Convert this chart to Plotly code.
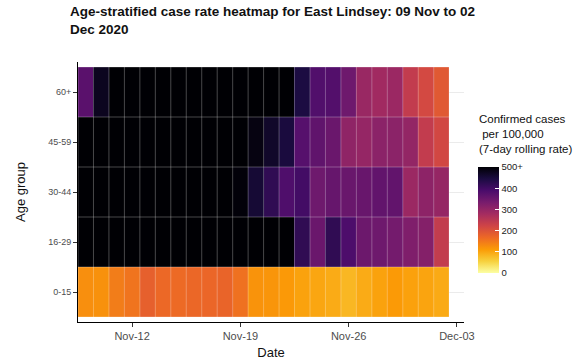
import plotly.graph_objects as go
import pandas as pd

# ---- data (7-day rolling case rate per 100,000; 500 = "500+" capped) ----
dates = pd.date_range("2020-11-09", "2020-12-02", freq="D")
age_groups = ["0-15", "16-29", "30-44", "45-59", "60+"]

rate_0_15 = [125, 122, 145, 155, 180, 168, 166, 170, 171, 174, 158, 120,
             118, 113, 104, 100, 95, 82, 95, 104, 112, 105, 102, 96]
rate_16_29 = [500, 500, 500, 500, 500, 500, 500, 500, 500, 500, 500, 500,
              500, 500, 420, 350, 420, 385, 348, 345, 338, 325, 318, 239]
rate_30_44 = [500, 500, 500, 500, 500, 500, 500, 500, 500, 500, 495, 455,
              420, 383, 397, 345, 355, 352, 353, 360, 360, 290, 308, 297]
rate_45_59 = [500, 500, 500, 500, 500, 500, 500, 500, 500, 500, 500, 488,
              465, 447, 375, 362, 350, 305, 298, 310, 310, 300, 240, 218]
rate_60_plus = [370, 475, 500, 500, 500, 500, 500, 500, 500, 500, 500, 500,
                500, 500, 443, 380, 378, 345, 292, 283, 290, 240, 215, 190]

cbar_ticks = [0, 100, 200, 300, 400, 500]
cbar_labels = ["0", "100", "200", "300", "400", "500+"]
x_ticks = pd.to_datetime(["2020-11-12", "2020-11-19", "2020-11-26", "2020-12-03"])

z = [rate_0_15, rate_16_29, rate_30_44, rate_45_59, rate_60_plus]

FONT = "Liberation Sans, Arial, sans-serif"
L, R, T, B = 78, 120, 62, 40
W, H = 584, 362
PW, PH = W - L - R, H - T - B


def px_x(px):
    return (px - L) / PW


def px_y(py):
    return (H - B - py) / PH


fig = go.Figure(go.Heatmap(
    x=dates, y=age_groups, z=z,
    colorscale="Inferno", reversescale=True, zmin=0, zmax=500,
    colorbar=dict(
        x=px_x(478), xanchor="left", y=px_y(220), yanchor="middle",
        len=106, lenmode="pixels", thickness=21, outlinewidth=0,
        ypad=0, xpad=0,
        tickvals=cbar_ticks, ticktext=cbar_labels,
        ticks="inside", ticklen=4, tickcolor="white",
        tickfont=dict(size=9.5, color="#222222", family=FONT),
    ),
    hoverongaps=False,
))

# tile borders (semi-transparent white), derived from the data grid
half = pd.Timedelta(hours=12)
edges = list(dates - half) + [dates[-1] + half]
shapes = []
for e in edges:
    shapes.append(dict(type="line", xref="x", yref="y", x0=e, x1=e,
                       y0=-0.5, y1=len(age_groups) - 0.5,
                       line=dict(color="rgba(255,255,255,0.28)", width=1)))
for i in range(len(age_groups) + 1):
    shapes.append(dict(type="line", xref="x", yref="y", x0=edges[0], x1=edges[-1],
                       y0=i - 0.5, y1=i - 0.5,
                       line=dict(color="rgba(255,255,255,0.28)", width=1)))

fig.update_layout(
    width=W, height=H,
    margin=dict(l=L, r=R, t=T, b=B, autoexpand=False),
    paper_bgcolor="white", plot_bgcolor="white",
    font=dict(family=FONT),
    shapes=shapes,
    annotations=[
        dict(
            text="<b>Age-stratified case rate heatmap for East Lindsey: 09 Nov to 02<br>Dec 2020</b>",
            xref="paper", yref="paper", x=px_x(68), y=px_y(2),
            xanchor="left", yanchor="top", align="left", showarrow=False,
            font=dict(size=13.5, color="#111111", family=FONT),
        ),
        dict(
            text="Confirmed cases<br>&nbsp;per 100,000<br>(7-day rolling rate)",
            xref="paper", yref="paper", x=px_x(477), y=px_y(111),
            xanchor="left", yanchor="top", align="left", showarrow=False,
            font=dict(size=11.5, color="#111111", family=FONT),
        ),
    ],
)

fig.update_xaxes(
    type="date",
    range=[edges[0], pd.Timestamp("2020-12-03 11:00")],
    tickvals=x_ticks, tickformat="%b-%d",
    ticks="outside", ticklen=4, tickcolor="#333333",
    showline=True, linecolor="black", linewidth=1,
    showgrid=False, zeroline=False,
    tickfont=dict(size=11, color="#4d4d4d"),
    title=dict(text="Date", font=dict(size=13, color="#111111"), standoff=6),
)
fig.update_yaxes(
    type="category", categoryorder="array", categoryarray=age_groups,
    range=[-0.6, len(age_groups) - 0.4],
    ticks="outside", ticklen=4, tickcolor="#333333",
    showline=True, linecolor="black", linewidth=1,
    showgrid=True, gridcolor="#ebebeb", zeroline=False,
    tickfont=dict(size=9, color="#4d4d4d"),
    title=dict(text="Age group", font=dict(size=13, color="#111111"), standoff=19),
)

fig.write_html("out.html", config={"displayModeBar": False},
               post_script="document.body.style.margin='0px';")
